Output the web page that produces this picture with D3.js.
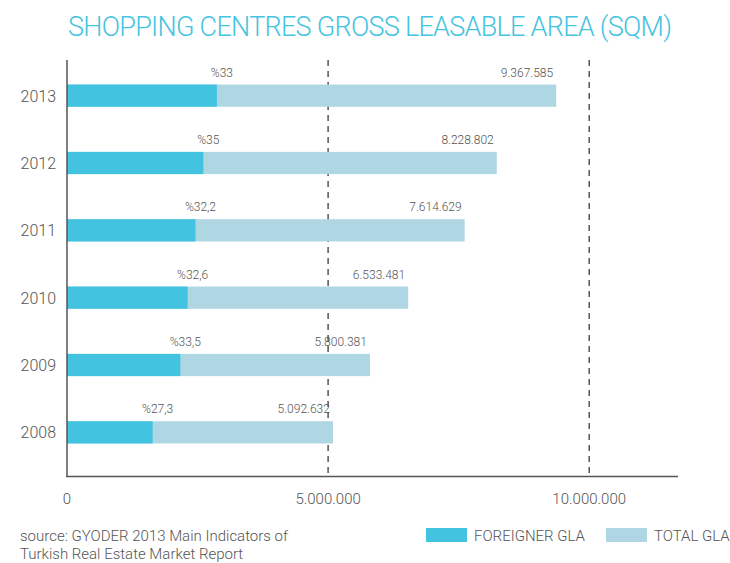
<!DOCTYPE html>
<html><head><meta charset="utf-8">
<script src="https://cdn.jsdelivr.net/npm/d3@7"></script>
<style>body{margin:0;background:#fff}svg{display:block}text{font-family:Roboto,"DejaVu Sans",sans-serif;font-weight:300}</style>
</head><body>
<svg id="c" width="730" height="563"></svg>
<script>
const years = ["2013","2012","2011","2010","2009","2008"];
const totalGLA = [9367585, 8228802, 7614629, 6533481, 5800381, 5092632];
const foreignerGLA = [2870000, 2610000, 2460000, 2310000, 2170000, 1640000];
const foreignerPct = ["%33","%35","%32,2","%32,6","%33,5","%27,3"];
const totalLabels = ["9.367.585","8.228.802","7.614.629","6.533.481","5.800.381","5.092.632"];
const xTicks = [0, 5000000, 10000000];
const xTickLabels = ["0","5.000.000","10.000.000"];

const svg = d3.select("#c");
const x = d3.scaleLinear().domain([0, 11700000]).range([67, 678]);
const y = d3.scaleBand().domain(years).range([62, 466]).paddingInner(0.67).paddingOuter(0.335);

const cF = "#42c3e0", cT = "#aed6e3";

svg.append("text").attr("x", 370).attr("y", 36).attr("text-anchor","middle")
  .attr("fill", "#45c4e0").attr("font-size", 27).attr("textLength", 604)
  .text("SHOPPING CENTRES GROSS LEASABLE AREA (SQM)");

// dashed gridlines
svg.selectAll(".grid").data(xTicks.slice(1)).join("line")
  .attr("x1", d => x(d)).attr("x2", d => x(d)).attr("y1", 60).attr("y2", 476)
  .attr("stroke", "#555").attr("stroke-width", 1.5).attr("stroke-dasharray", "6,5");

// bars
svg.selectAll(".tot").data(years).join("rect")
  .attr("x", x(0)).attr("y", d => y(d)).attr("height", y.bandwidth())
  .attr("width", (d,i) => x(totalGLA[i]) - x(0)).attr("fill", cT);
svg.selectAll(".for").data(years).join("rect")
  .attr("x", x(0)).attr("y", d => y(d)).attr("height", y.bandwidth())
  .attr("width", (d,i) => x(foreignerGLA[i]) - x(0)).attr("fill", cF);

// labels
svg.selectAll(".pl").data(years).join("text")
  .attr("x", (d,i) => x(foreignerGLA[i]) + 5).attr("y", d => y(d) - 8)
  .attr("text-anchor","middle").attr("font-size", 12).attr("fill", "#555")
  .text((d,i) => foreignerPct[i]);
svg.selectAll(".tl").data(years).join("text")
  .attr("x", (d,i) => x(totalGLA[i]) - 3).attr("y", d => y(d) - 8)
  .attr("text-anchor","end").attr("font-size", 12).attr("fill", "#555")
  .text((d,i) => totalLabels[i]);

// y labels
svg.selectAll(".yl").data(years).join("text")
  .attr("x", 56).attr("y", d => y(d) + y.bandwidth()/2 + 6)
  .attr("text-anchor","end").attr("font-size", 16).attr("fill", "#555")
  .text(d => d);

// axes lines
svg.append("line").attr("x1", 67).attr("x2", 67).attr("y1", 60).attr("y2", 477)
  .attr("stroke", "#555").attr("stroke-width", 1.5);
svg.append("line").attr("x1", 66).attr("x2", 678).attr("y1", 476.5).attr("y2", 476.5)
  .attr("stroke", "#555").attr("stroke-width", 1.5);

svg.selectAll(".xt").data(xTicks).join("text")
  .attr("x", d => x(d)).attr("y", 504).attr("text-anchor","middle")
  .attr("font-size", 15).attr("fill", "#555").text((d,i) => xTickLabels[i]);

// source
svg.append("text").attr("x", 20).attr("y", 541).attr("font-size", 15).attr("fill", "#555")
  .text("source: GYODER 2013 Main Indicators of");
svg.append("text").attr("x", 20).attr("y", 559).attr("font-size", 15).attr("fill", "#555")
  .text("Turkish Real Estate Market Report");

// legend
const leg = [["FOREIGNER GLA", cF, 426, 474], ["TOTAL GLA", cT, 606, 654]];
leg.forEach(l => {
  svg.append("rect").attr("x", l[2]).attr("y", 528).attr("width", 41).attr("height", 14).attr("fill", l[1]);
  svg.append("text").attr("x", l[3]).attr("y", 541).attr("font-size", 15).attr("fill", "#555").text(l[0]);
});
</script>
</body></html>
